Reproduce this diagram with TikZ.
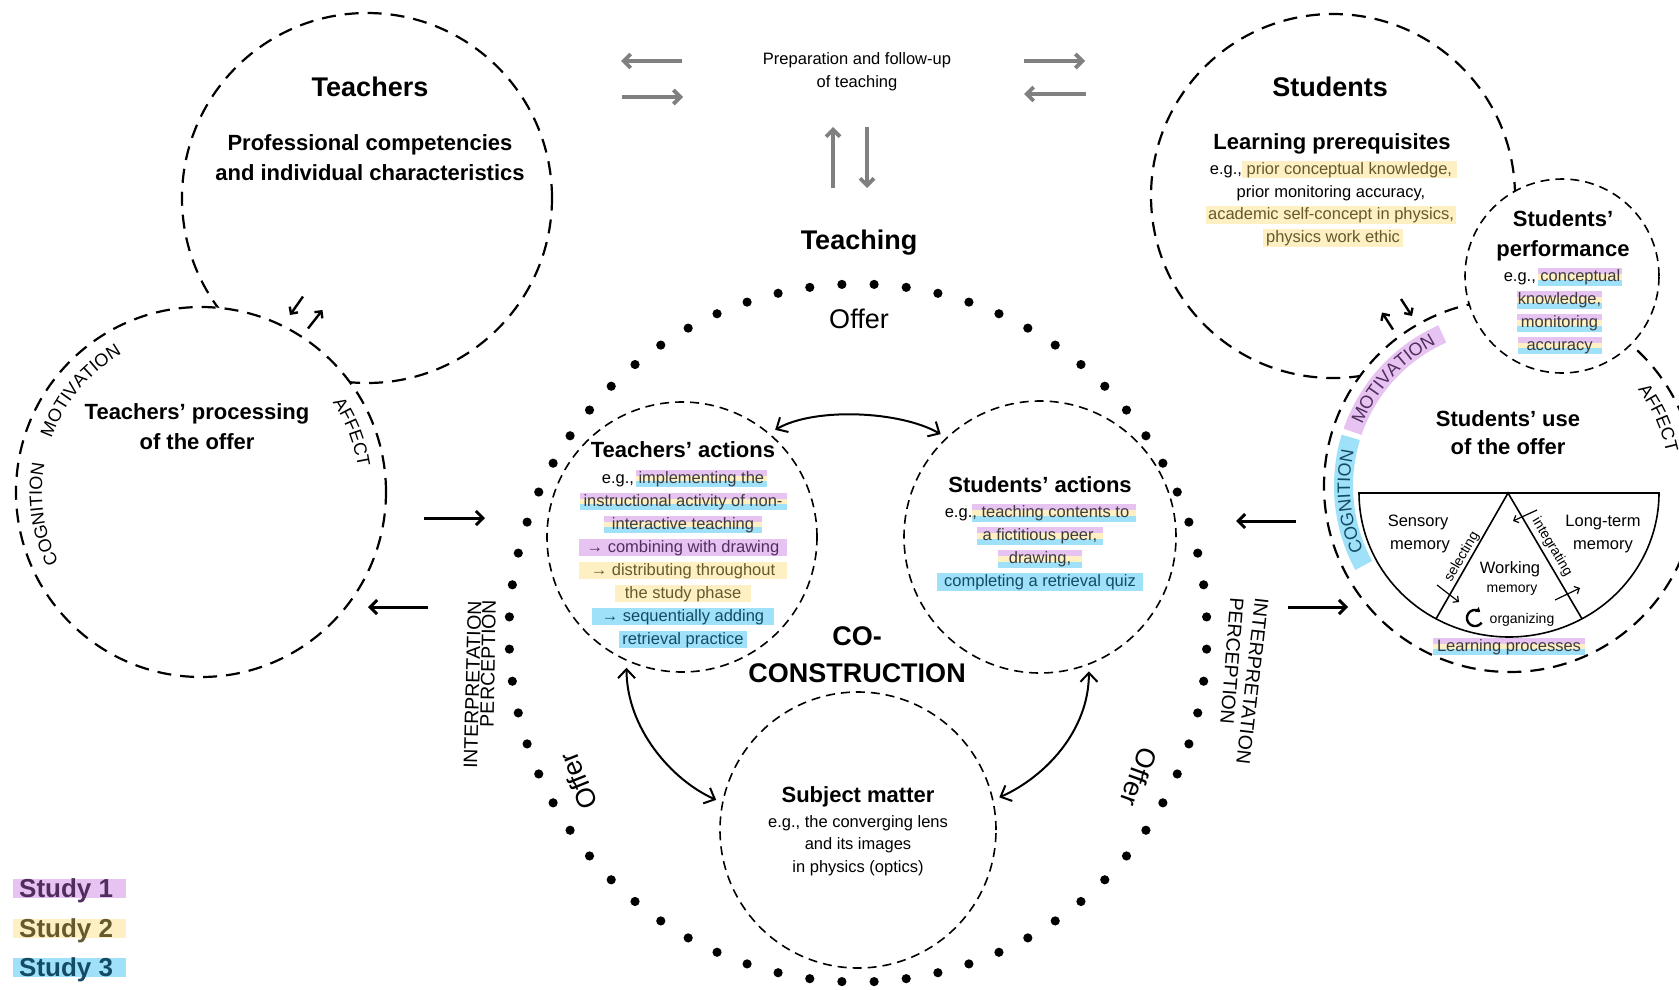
\documentclass[tikz,border=0pt]{standalone}
\usepackage{fontspec}
\setmainfont{Liberation Sans}
\usetikzlibrary{arrows.meta,decorations.text}

\definecolor{hlpurple}{HTML}{E6C3F0}
\definecolor{hlyellow}{HTML}{FFF0C3}
\definecolor{hlblue}{HTML}{A0E1FA}
\definecolor{txpurple}{HTML}{502D5F}
\definecolor{txyellow}{HTML}{645A2D}
\definecolor{txblue}{HTML}{144B64}
\definecolor{txtri}{HTML}{3C3C3C}
\definecolor{arrowgray}{HTML}{808080}

% highlighted words: a coloured band behind the text
\newsavebox\hlbox
\newlength\hlwd
\newcommand\hlmake[4]{%
  \sbox\hlbox{\textcolor{#2}{#4}}%
  \setlength\hlwd{\wd\hlbox}%
  \addtolength\hlwd{#3}\addtolength\hlwd{#3}%
  \kern-#3\relax
  \rlap{\raisebox{-.27em}{\textcolor{#1}{\rule{\hlwd}{1.07em}}}}%
  \kern#3\relax\usebox\hlbox}
\newcommand\hlPur[2][3pt]{\hlmake{hlpurple}{txpurple}{#1}{#2}}
\newcommand\hlYel[2][3pt]{\hlmake{hlyellow}{txyellow}{#1}{#2}}
\newcommand\hlBlu[2][3pt]{\hlmake{hlblue}{txblue}{#1}{#2}}
% three stripes: studies 1, 2 and 3 together
\newcommand\hlTri[2][3pt]{%
  \sbox\hlbox{\textcolor{txtri}{#2}}%
  \setlength\hlwd{\wd\hlbox}%
  \addtolength\hlwd{#1}\addtolength\hlwd{#1}%
  \kern-#1\relax
  \rlap{\raisebox{-.27em}{\textcolor{hlblue}{\rule{\hlwd}{.37em}}}}%
  \rlap{\raisebox{.1em}{\textcolor{hlyellow}{\rule{\hlwd}{.35em}}}}%
  \rlap{\raisebox{.45em}{\textcolor{hlpurple}{\rule{\hlwd}{.35em}}}}%
  \kern#1\relax\usebox\hlbox}

% text set along the inside of a circle, read clockwise
\newcommand\lblfont{\fontsize{18}{20}\selectfont}
\newcommand\arclabel[7]{%
  \path[decorate, decoration={text along path, text align=center,
      text color=#6, text={|\lblfont|#7}}]
    plot[domain=#4:#5, samples=60] ({#1+#3*cos(\x)},{#2-#3*sin(\x)});}

\begin{document}
\begin{tikzpicture}[x=1pt,y=-1pt,
  bigc/.style={circle, draw=black, line width=2.2pt, dash pattern=on 14pt off 9pt, inner sep=0pt},
  smallc/.style={circle, draw=black, line width=1.6pt, dash pattern=on 9pt off 6pt, inner sep=0pt, outer sep=7pt},
  txtbase/.style={inner sep=0pt, anchor=base},
  ttlbig/.style={txtbase, font=\fontsize{27}{32}\selectfont\bfseries},
  ttlsub/.style={txtbase, font=\fontsize{22}{28}\selectfont\bfseries},
  bodytxt/.style={txtbase, font=\fontsize{16.5}{23}\selectfont},
  memtxt/.style={txtbase, font=\fontsize{14}{16}\selectfont},
  vlabel/.style={inner sep=0pt, font=\fontsize{19.5}{22}\selectfont},
  offerlbl/.style={inner sep=0pt, font=\fontsize{27}{32}\selectfont},
  legendtxt/.style={inner sep=0pt, anchor=base west, font=\fontsize{26}{30}\selectfont\bfseries},
  flow/.style={-{Straight Barb[length=7pt,width=14pt]}, line width=3pt},
  grayflow/.style={-{Straight Barb[length=7pt,width=14pt]}, line width=3.8pt, draw=arrowgray},
  tinyflow/.style={-{Straight Barb[length=5pt,width=10pt]}, line width=2.4pt},
  memflow/.style={-{Straight Barb[length=4pt,width=8pt]}, line width=1.2pt},
  exchange/.style={{Straight Barb[length=9pt,width=17pt]}-{Straight Barb[length=9pt,width=17pt]}, line width=2pt},
]
\useasboundingbox (0,0) rectangle (1679,989);
\fill[white] (0,0) rectangle (1679,989);
\begin{scope}
\clip (0,0) rectangle (1679,989);

% ---- large dashed circles (later ones hide the earlier ones) ----
\node[bigc, minimum size=370pt] (teachers) at (367,198) {};
\node[bigc, fill=white, minimum size=370pt] (tproc) at (201,492) {};
\node[bigc, minimum size=364pt] (students) at (1333,196) {};
\node[bigc, fill=white, minimum size=372pt] (suse) at (1510,486) {};
\node[smallc, fill=white, minimum size=194pt] (sperf) at (1562,276) {};

% ---- the three circles of the co-construction ----
\node[smallc, minimum size=270pt] (tact) at (682,537) {};
\node[smallc, minimum size=272pt] (sact) at (1040,537) {};
\node[smallc, minimum size=276pt] (subj) at (858,830) {};

% ---- dotted circle of the offer ----
\coordinate (offer) at (858,633);
\foreach \i in {0,...,67}
  \fill ({858+349*cos(92.647+\i*5.29412)},{633-349*sin(92.647+\i*5.29412)}) circle[radius=4.6pt];

% ---- labels along the processing circles ----
\arclabel{201}{492}{159}{175}{105}{black}{MOTIVATION}
\arclabel{201}{492}{159}{223}{153}{black}{COGNITION}
\arclabel{201}{492}{159}{56.5}{-13.5}{black}{AFFECT}

\draw[hlpurple, line width=19pt] plot[domain=161:114, samples=50] ({1510+166.5*cos(\x)},{486-166.5*sin(\x)});
\draw[hlblue, line width=19pt] plot[domain=208.5:163, samples=50] ({1510+166.5*cos(\x)},{486-166.5*sin(\x)});
\arclabel{1510}{486}{160}{172.5}{102.5}{txpurple}{MOTIVATION}
\arclabel{1510}{486}{160}{220.5}{150.5}{txblue}{COGNITION}
\arclabel{1510}{486}{160}{59.5}{-10.5}{black}{AFFECT}

% ---- Teachers ----
\node[ttlbig] (tT) at (370,96.5) {Teachers};
\node[ttlsub] (tT1) at (370,150) {Professional competencies};
\node[ttlsub] (tT2) at (370,180) {and individual characteristics};

\node[ttlsub] (tP1) at (197,419.5) {Teachers’ processing};
\node[ttlsub] (tP2) at (197,449.5) {of the offer};

% ---- preparation and follow-up ----
\node[bodytxt] (prep1) at (857,64) {Preparation and follow-up};
\node[bodytxt] (prep2) at (857,87.5) {of teaching};

\coordinate (gA1) at (682,61);  \coordinate (gA2) at (621,61);
\coordinate (gB1) at (622,97);  \coordinate (gB2) at (683,97);
\coordinate (gC1) at (1024,61); \coordinate (gC2) at (1085,61);
\coordinate (gD1) at (1086,94); \coordinate (gD2) at (1024,94);
\coordinate (gE1) at (833,188); \coordinate (gE2) at (833,127);
\coordinate (gF1) at (867,127); \coordinate (gF2) at (867,188);
\draw[grayflow] (gA1) -- (gA2);
\draw[grayflow] (gB1) -- (gB2);
\draw[grayflow] (gC1) -- (gC2);
\draw[grayflow] (gD1) -- (gD2);
\draw[grayflow] (gE1) -- (gE2);
\draw[grayflow] (gF1) -- (gF2);

% ---- Teaching ----
\node[ttlbig] (teaching) at (859,249.5) {Teaching};
\node[offerlbl, anchor=base] (offerTop) at (859,328) {Offer};
\node[offerlbl, rotate=112] (offerL) at (578,781) {Offer};
\node[offerlbl, rotate=-110] (offerR) at (1139,777) {Offer};

\node[ttlbig] (co1) at (857,645) {CO-};
\node[ttlbig] (co2) at (857,682) {CONSTRUCTION};

\node[ttlsub] (ta0) at (683,457.5) {Teachers’ actions};
\node[bodytxt] (ta1) at (683,483) {e.g., \hlTri{implementing the}};
\node[bodytxt] (ta2) at (683,506) {\hlTri[4pt]{instructional activity of non-}};
\node[bodytxt] (ta3) at (683,529) {\hlTri[8pt]{interactive teaching}};
\node[bodytxt] (ta4) at (683,552) {\hlPur[8pt]{→ combining with drawing}};
\node[bodytxt] (ta5) at (683,575) {\hlYel[12pt]{→ distributing throughout}};
\node[bodytxt] (ta6) at (683,598) {\hlYel[10pt]{the study phase}};
\node[bodytxt] (ta7) at (683,621) {\hlBlu[10pt]{→ sequentially adding}};
\node[bodytxt] (ta8) at (683,644) {\hlBlu{retrieval practice}};

\node[ttlsub] (sa0) at (1040,492.5) {Students’ actions};
\node[bodytxt] (sa1) at (1040,517.5) {e.g.\hlTri[0.5pt]{, teaching contents to\hspace{6pt}}};
\node[bodytxt] (sa2) at (1040,540.5) {\hlTri[6pt]{a fictitious peer,}};
\node[bodytxt] (sa3) at (1040,563.5) {\hlTri[11pt]{drawing,}};
\node[bodytxt] (sa4) at (1040,586.5) {\hlBlu[7pt]{completing a retrieval quiz}};

\node[ttlsub] (sm0) at (858,802) {Subject matter};
\node[bodytxt] (sm1) at (858,827) {e.g., the converging lens};
\node[bodytxt] (sm2) at (858,849.5) {and its images};
\node[bodytxt] (sm3) at (858,872) {in physics (optics)};

% exchanges inside the co-construction
\draw[exchange] (tact.49) .. controls +(40,-23) and +(-40,-23) .. (sact.134);
\draw[exchange] (tact.247) .. controls +(0,60) and +(-45,-20) .. (subj.168);
\draw[exchange] (sact.290) .. controls +(0,60) and +(45,-20) .. (subj.13);

% ---- perception and interpretation of the offer ----
\node[vlabel, rotate=88.5] (interL) at (472.5,685) {INTERPRETATION};
\node[vlabel, rotate=89] (percL) at (488,663.5) {PERCEPTION};
\node[vlabel, rotate=-96.5] (interR) at (1252.5,681) {INTERPRETATION};
\node[vlabel, rotate=-94.5] (percR) at (1232,661) {PERCEPTION};

\coordinate (aL1) at (424,518);  \coordinate (aL2) at (485,518);
\coordinate (aL3) at (428,607);  \coordinate (aL4) at (368,607);
\coordinate (aR1) at (1296,521); \coordinate (aR2) at (1236,521);
\coordinate (aR3) at (1288,607); \coordinate (aR4) at (1348,607);
\draw[flow] (aL1) -- (aL2);
\draw[flow] (aL3) -- (aL4);
\draw[flow] (aR1) -- (aR2);
\draw[flow] (aR3) -- (aR4);

\coordinate (tL1) at (303,296.5); \coordinate (tL2) at (290,315);
\coordinate (tL3) at (308,328.5); \coordinate (tL4) at (322.5,310);
\coordinate (tR1) at (1393,329.5); \coordinate (tR2) at (1382,312.5);
\coordinate (tR3) at (1401,299); \coordinate (tR4) at (1412,316);
\draw[tinyflow] (tL1) -- (tL2);
\draw[tinyflow] (tL3) -- (tL4);
\draw[tinyflow] (tR1) -- (tR2);
\draw[tinyflow] (tR3) -- (tR4);

% ---- Students ----
\node[ttlbig] (sT) at (1330,96.5) {Students};
\node[ttlsub] (lp0) at (1332,149.5) {Learning prerequisites};
\node[bodytxt] (lp1) at (1331,174) {e.g., \hlYel[5pt]{prior conceptual knowledge,}};
\node[bodytxt] (lp2) at (1331,197) {prior monitoring accuracy,};
\node[bodytxt] (lp3) at (1331,219.5) {\hlYel[2.5pt]{academic self-concept in physics,}};
\node[bodytxt] (lp4) at (1333,242.5) {\hlYel{physics work ethic}};

\node[ttlsub] (pf0) at (1563,226) {Students’};
\node[ttlsub] (pf1) at (1563,256) {performance};
\node[bodytxt] (pf2) at (1562,281.5) {e.g., \hlTri[2pt]{conceptual}};
\node[bodytxt] (pf3) at (1559.5,304.5) {\hlTri[1pt]{knowledge,}};
\node[bodytxt] (pf4) at (1559.5,327.5) {\hlTri[4pt]{monitoring}};
\node[bodytxt] (pf5) at (1559.5,350) {\hlTri[9pt]{accuracy}};

\node[ttlsub] (su0) at (1508,426) {Students’ use};
\node[ttlsub] (su1) at (1508,454.5) {of the offer};

% memory model
\draw[line width=1.6pt] plot[domain=180:360, samples=90] ({1509+150*cos(\x)},{493-144*sin(\x)}) -- cycle;
\coordinate (mApex) at (1508,493);
\coordinate (mLeft) at (1436,618.8);
\coordinate (mRight) at (1582,618.8);
\draw[line width=1.6pt] (mLeft) -- (mApex) -- (mRight);

\node[bodytxt] (sens1) at (1418,526) {Sensory};
\node[bodytxt] (sens2) at (1420,549) {memory};
\node[bodytxt] (lt1) at (1603,526) {Long-term};
\node[bodytxt] (lt2) at (1603,549) {memory};
\node[bodytxt] (wm1) at (1510,573.5) {Working};
\node[memtxt] (wm2) at (1512,592.5) {memory};
\node[memtxt] (org) at (1522,623) {organizing};
\node[memtxt, anchor=center, rotate=60] (sel) at (1462,557) {selecting};
\node[memtxt, anchor=center, rotate=-59] (integ) at (1552,547) {integrating};

\coordinate (m1) at (1437,585); \coordinate (m2) at (1459,602);
\coordinate (m3) at (1537,510); \coordinate (m4) at (1513,521);
\coordinate (m5) at (1555,600); \coordinate (m6) at (1580,588);
\draw[memflow] (m1) -- (m2);
\draw[memflow] (m3) -- (m4);
\draw[memflow] (m5) -- (m6);
\draw[line width=2.4pt, -{Triangle[length=4pt,width=6pt]}]
  plot[domain=-35:-310, samples=40] ({1475+8*cos(\x)},{618-8*sin(\x)});

\node[bodytxt] (lproc) at (1509,651) {\hlTri[4pt]{Learning processes}};

% ---- legend ----
\fill[hlpurple] (13,879) rectangle (126,898);
\fill[hlyellow] (13,919) rectangle (126,938);
\fill[hlblue] (13,958) rectangle (126,977);
\node[legendtxt, text=txpurple] (study1) at (19,897) {Study 1};
\node[legendtxt, text=txyellow] (study2) at (19,937) {Study 2};
\node[legendtxt, text=txblue] (study3) at (19,976) {Study 3};
\end{scope}
\end{tikzpicture}
\end{document}
